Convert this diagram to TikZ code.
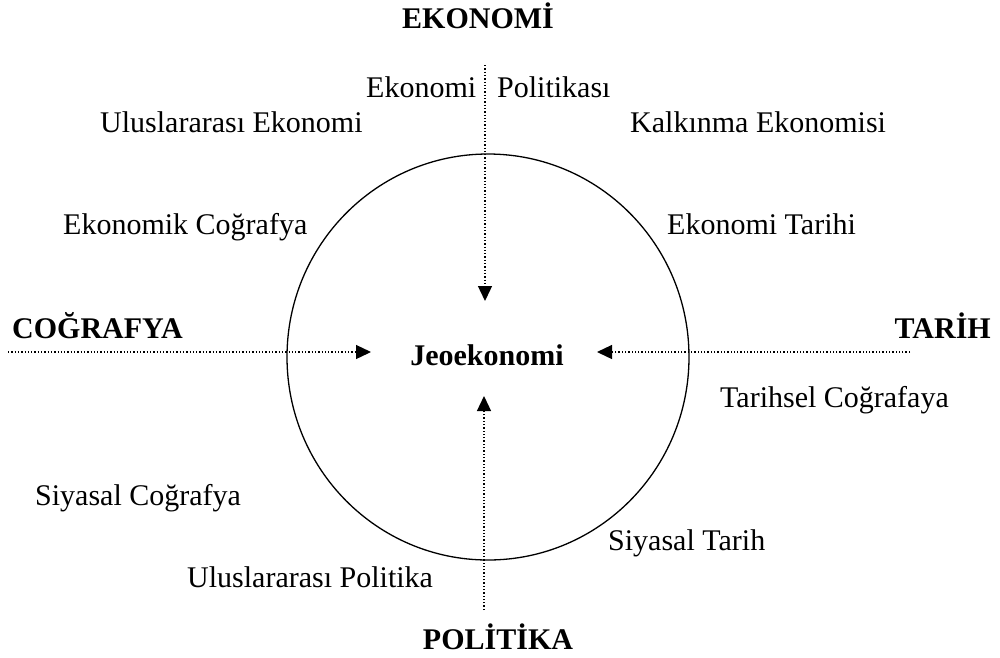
\documentclass[tikz,border=0pt]{standalone}
\usepackage{fontspec}
\setmainfont{Liberation Serif}
\usetikzlibrary{arrows.meta}
\begin{document}
\begin{tikzpicture}[x=1pt,y=-1pt,
  lbl/.style={anchor=base west,inner sep=0pt,font=\fontsize{30}{36}\selectfont},
  ttl/.style={anchor=base,inner sep=0pt,font=\fontsize{30}{36}\selectfont\bfseries},
  dotline/.style={line width=1.3pt,dotted},
  arr/.style={dotline,-{Triangle[length=15pt,width=14pt]}}]
\useasboundingbox (0,0) rectangle (1000,657);
\draw[line width=1.3pt] (488,357) ellipse [x radius=201, y radius=203];
\node[ttl] (eko) at (478,28) {EKONOMİ};
\node[ttl,anchor=base west] (cog) at (12,338) {COĞRAFYA};
\node[ttl,anchor=base east] (tar) at (991,338) {TARİH};
\node[ttl] (pol) at (498,649) {POLİTİKA};
\node[ttl] (jeo) at (487,365) {Jeoekonomi};
\node[lbl] (a1) at (366,97) {Ekonomi};
\node[lbl] (a2) at (497,97) {Politikası};
\node[lbl] (a3) at (100,132) {Uluslararası Ekonomi};
\node[lbl] (a4) at (630,132) {Kalkınma Ekonomisi};
\node[lbl] (a5) at (63,234) {Ekonomik Coğrafya};
\node[lbl] (a6) at (667,234) {Ekonomi Tarihi};
\node[lbl] (a7) at (720,407) {Tarihsel Coğrafaya};
\node[lbl] (a8) at (35,505) {Siyasal Coğrafya};
\node[lbl] (a9) at (608,550) {Siyasal Tarih};
\node[lbl] (a10) at (187,587) {Uluslararası Politika};
\coordinate (t0) at (485,65);
\coordinate (t1) at (485,301);
\coordinate (b0) at (484,610);
\coordinate (b1) at (484,396);
\coordinate (l0) at (8,352);
\coordinate (l1) at (371,352);
\coordinate (r0) at (910,352);
\coordinate (r1) at (597,352);
\draw[arr] (t0) -- (t1);
\draw[arr] (b0) -- (b1);
\draw[arr] (l0) -- (l1);
\draw[arr] (r0) -- (r1);
\end{tikzpicture}
\end{document}
